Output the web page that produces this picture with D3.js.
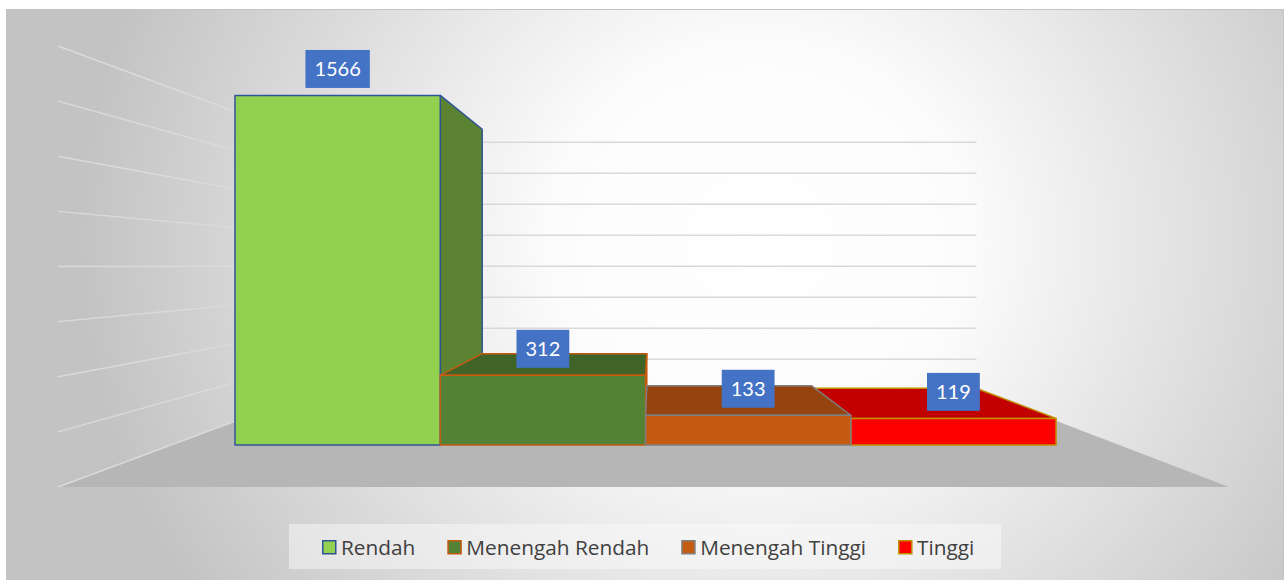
<!DOCTYPE html>
<html>
<head>
<meta charset="utf-8">
<script src="https://cdn.jsdelivr.net/npm/d3@7"></script>
<style>
  html, body { margin: 0; padding: 0; background: #ffffff; }
  svg { display: block; }
</style>
</head>
<body>
<div id="chart"></div>
<script>
// Data
var categories = ["Rendah", "Menengah Rendah", "Menengah Tinggi", "Tinggi"];
var values = [1566, 312, 133, 119];
var valueLabels = ["1566", "312", "133", "119"];

// Styles, one per category
var fillColors = ["#92d050", "#548235", "#c55a11", "#ff0000"];
var edgeColors = ["#2f5597", "#c55a11", "#7f7f7f", "#bf9000"];

var svgWidth = 1288;
var svgHeight = 580;

// Vanishing point of the 3D view and depths (1 = front of floor)
var vp = { x: 652, y: 266 };
var depth = { floorFront: 1, barFront: 1.235, barBack: 1.54, wall: 1.778 };

var svg = d3.select("#chart").append("svg")
            .attr("width", svgWidth)
            .attr("height", svgHeight);

var defs = svg.append("defs");
var bg = defs.append("radialGradient")
             .attr("id", "bgGrad")
             .attr("gradientUnits", "userSpaceOnUse")
             .attr("cx", 0).attr("cy", 0).attr("r", 1)
             .attr("gradientTransform", "translate(760,240) scale(680,640)");
bg.append("stop").attr("offset", "0").attr("stop-color", "#ffffff");
bg.append("stop").attr("offset", "0.3").attr("stop-color", "#fcfcfc");
bg.append("stop").attr("offset", "1").attr("stop-color", "#c3c3c3");

// Chart area
svg.append("rect")
   .attr("x", 6.5).attr("y", 9.5)
   .attr("width", 1277).attr("height", 600)
   .attr("fill", "url(#bgGrad)")
   .attr("stroke", "#c4c4c4")
   .attr("stroke-width", 1);

// Scales in "world" units (pixels at the front plane, relative to the vanishing point)
var xScale = d3.scaleBand()
               .domain(categories)
               .range([-515, 499])
               .padding(0);
var yScale = d3.scaleLinear()
               .domain([0, 1600])
               .range([221, -220]);
var floorX = [-594, 577];

// Perspective projection
function proj(xw, h, z) {
  return [vp.x + xw / z, vp.y + h / z];
}
function quad(pts) {
  return "M" + pts.map(function(p) { return proj(p[0], p[1], p[2]).join(","); }).join("L") + "Z";
}

var plot = svg.append("g");

// Floor
plot.append("path")
    .attr("d", quad([[floorX[0], yScale(0), depth.floorFront],
                     [floorX[1], yScale(0), depth.floorFront],
                     [floorX[1], yScale(0), depth.wall],
                     [floorX[0], yScale(0), depth.wall]]))
    .attr("fill", "#b6b6b6");

// Gridlines: back wall and left side wall
var ticks = yScale.ticks(8);
plot.selectAll(".grid-back")
    .data(ticks.filter(function(t) { return t > 0; }))
    .enter().append("path")
    .attr("class", "grid-back")
    .attr("d", function(t) {
      var a = proj(floorX[0], yScale(t), depth.wall), b = proj(floorX[1], yScale(t), depth.wall);
      return "M" + a + "L" + b;
    })
    .attr("stroke", "#d9d9d9").attr("stroke-width", 1.5).attr("fill", "none");

plot.selectAll(".grid-side")
    .data(ticks)
    .enter().append("path")
    .attr("class", "grid-side")
    .attr("d", function(t) {
      var a = proj(floorX[0], yScale(t), depth.floorFront), b = proj(floorX[0], yScale(t), depth.wall);
      return "M" + a + "L" + b;
    })
    .attr("stroke", "#dadada").attr("stroke-width", 1.5).attr("fill", "none");

// Bars, painted from the outside towards the vanishing point
function shade(c, k) {
  var col = d3.rgb(c);
  return d3.rgb(col.r * k, col.g * k, col.b * k).formatHex();
}
var bars = categories.map(function(c, i) {
  return { cat: c, value: values[i], i: i };
});
var order = bars.slice().sort(function(a, b) {
  var ca = Math.abs(xScale(a.cat) + xScale.bandwidth() / 2);
  var cb = Math.abs(xScale(b.cat) + xScale.bandwidth() / 2);
  return cb - ca;
});

var zf = depth.barFront, zb = depth.barBack;
order.forEach(function(d) {
  var x0 = xScale(d.cat), x1 = x0 + xScale.bandwidth();
  var h0 = yScale(0), h1 = yScale(d.value);
  var g = plot.append("g")
              .attr("stroke", edgeColors[d.i])
              .attr("stroke-width", 1.5)
              .attr("stroke-linejoin", "round");
  if (x1 < 0) {
    g.append("path")
     .attr("d", quad([[x1, h1, zf], [x1, h1, zb], [x1, h0, zb], [x1, h0, zf]]))
     .attr("fill", shade(fillColors[d.i], 0.63));
  }
  if (x0 > 0) {
    g.append("path")
     .attr("d", quad([[x0, h1, zf], [x0, h1, zb], [x0, h0, zb], [x0, h0, zf]]))
     .attr("fill", shade(fillColors[d.i], 0.63));
  }
  if (h1 > 0) {
    g.append("path")
     .attr("d", quad([[x0, h1, zf], [x1, h1, zf], [x1, h1, zb], [x0, h1, zb]]))
     .attr("fill", shade(fillColors[d.i], 0.76));
  }
  g.append("path")
   .attr("d", quad([[x0, h1, zf], [x1, h1, zf], [x1, h0, zf], [x0, h0, zf]]))
   .attr("fill", fillColors[d.i]);
});

// Data labels
var labels = plot.selectAll(".label")
                 .data(bars)
                 .enter().append("g")
                 .attr("class", "label")
                 .attr("transform", function(d) {
                   var p = proj(xScale(d.cat) + xScale.bandwidth() / 2, yScale(d.value), zf);
                   return "translate(" + p[0] + "," + (p[1] - 7.5) + ")";
                 });
labels.append("text")
      .text(function(d) { return valueLabels[d.i]; })
      .attr("text-anchor", "middle")
      .attr("y", -12)
      .attr("font-family", "Lato, 'Open Sans', sans-serif")
      .attr("font-size", "20px")
      .attr("fill", "#ffffff")
      .each(function() {
        var w = this.getComputedTextLength();
        d3.select(this.parentNode).insert("rect", "text")
          .attr("x", -w / 2 - 9).attr("y", -38)
          .attr("width", w + 18).attr("height", 38)
          .attr("fill", "#4472c4");
      });

// Legend
var legend = svg.append("g");
legend.append("rect")
      .attr("x", 289).attr("y", 524)
      .attr("width", 712).attr("height", 45)
      .attr("fill", "#fafafa").attr("fill-opacity", 0.5);

var lx = 322;
bars.forEach(function(d) {
  legend.append("rect")
        .attr("x", lx + 0.75).attr("y", 540.75)
        .attr("width", 13).attr("height", 13)
        .attr("fill", fillColors[d.i])
        .attr("stroke", edgeColors[d.i])
        .attr("stroke-width", 1.5);
  var t = legend.append("text")
                .attr("x", lx + 19).attr("y", 555)
                .attr("font-family", "'Open Sans', Lato, sans-serif")
                .attr("font-size", "20.8px")
                .attr("fill", "#404040")
                .text(d.cat);
  lx += 19 + t.node().getComputedTextLength() + 32;
});
</script>
</body>
</html>
